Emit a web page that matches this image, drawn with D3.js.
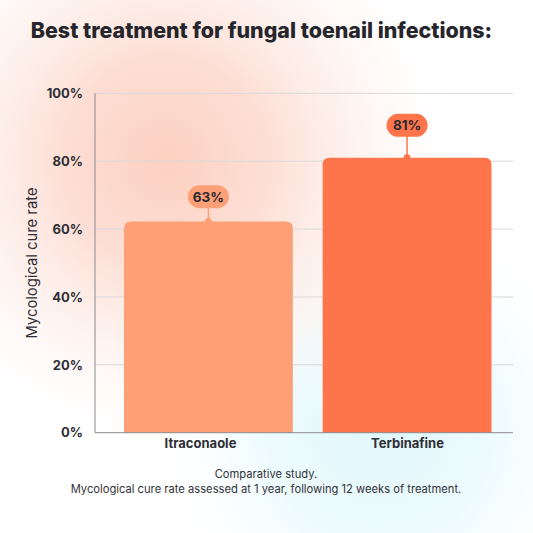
<!DOCTYPE html>
<html><head><meta charset="utf-8">
<script src="https://cdn.jsdelivr.net/npm/d3@7"></script>
<style>
html,body{margin:0;padding:0;background:#fff;}
svg{display:block;font-family:Inter,"Noto Sans",sans-serif;}
</style></head>
<body>
<svg id="chart" width="533" height="533"></svg>
<script>
const categories = ["Itraconaole", "Terbinafine"];
const values = [62.2, 81];
const valueLabels = ["63%", "81%"];
const barColors = ["#FDA077", "#FF754B"];
const yTicks = [0, 20, 40, 60, 80, 100];
const title = "Best treatment for fungal toenail infections:";
const yLabel = "Mycological cure rate";
const notes = ["Comparative study.", "Mycological cure rate assessed at 1 year, following 12 weeks of treatment."];

const svg = d3.select("#chart");
const W = 533, H = 533;
const defs = svg.append("defs");
const g1 = defs.append("radialGradient").attr("id","pink").attr("gradientUnits","userSpaceOnUse")
  .attr("cx",165).attr("cy",160).attr("r",300);
g1.append("stop").attr("offset","0%").attr("stop-color","#fcd0c1");
g1.append("stop").attr("offset","35%").attr("stop-color","#fddbd0").attr("stop-opacity",0.9);
g1.append("stop").attr("offset","70%").attr("stop-color","#fdeee9").attr("stop-opacity",0.5);
g1.append("stop").attr("offset","100%").attr("stop-color","#ffffff").attr("stop-opacity",0);
const g2 = defs.append("radialGradient").attr("id","cyan").attr("gradientUnits","userSpaceOnUse")
  .attr("cx",380).attr("cy",430).attr("r",230);
g2.append("stop").attr("offset","0%").attr("stop-color","#e0f8fc");
g2.append("stop").attr("offset","50%").attr("stop-color","#eafafd").attr("stop-opacity",0.8);
g2.append("stop").attr("offset","100%").attr("stop-color","#ffffff").attr("stop-opacity",0);
svg.append("rect").attr("width",W).attr("height",H).attr("fill","#fff");
svg.append("rect").attr("width",W).attr("height",H).attr("fill","url(#cyan)");
svg.append("rect").attr("width",W).attr("height",H).attr("fill","url(#pink)");

const pL = 95, pR = 513, pT = 93.3, pB = 432.7;
const y = d3.scaleLinear().domain([0,100]).range([pB, pT]);
const x = d3.scaleBand().domain(categories).range([108.5, 507]).paddingInner(0.15).paddingOuter(0.078);
const xl = d3.scaleBand().domain(categories).range([97, 511]);

// gridlines
svg.append("g").selectAll("line").data(yTicks.filter(t=>t>0)).join("line")
  .attr("x1",pL).attr("x2",pR).attr("y1",d=>y(d)).attr("y2",d=>y(d))
  .attr("stroke","#d9d9d9").attr("stroke-width",1);

// y tick labels
svg.append("g").selectAll("text").data(yTicks).join("text")
  .attr("x",83).attr("y",d=>y(d)).attr("dy","0.36em").attr("text-anchor","end")
  .attr("font-size",13).attr("font-weight",700).attr("fill","#2f2f35")
  .text(d=>d+"%");

// bars with rounded top corners
const r = 7;
function barPath(x0, w, yTop, yBot){
  return `M${x0},${yBot}V${yTop+r}Q${x0},${yTop} ${x0+r},${yTop}H${x0+w-r}Q${x0+w},${yTop} ${x0+w},${yTop+r}V${yBot}Z`;
}
svg.append("g").selectAll("path").data(categories).join("path")
  .attr("d",(d,i)=>barPath(x(d), x.bandwidth(), y(values[i]), pB))
  .attr("fill",(d,i)=>barColors[i]);

// axes lines
svg.append("line").attr("x1",pL).attr("x2",pL).attr("y1",pT).attr("y2",pB).attr("stroke","#8a8a8e").attr("stroke-width",1);
svg.append("line").attr("x1",pL).attr("x2",pR).attr("y1",pB).attr("y2",pB).attr("stroke","#8a8a8e").attr("stroke-width",1);

// value pills
const lab = svg.append("g").selectAll("g").data(categories).join("g");
lab.each(function(d,i){
  const gg = d3.select(this);
  const cx = x(d) + x.bandwidth()/2;
  const yTop = y(values[i]);
  const cy = yTop - (pB - yTop)*0.118;
  const pw = 41, ph = 23;
  gg.append("line").attr("x1",cx).attr("x2",cx).attr("y1",cy).attr("y2",yTop).attr("stroke",barColors[i]).attr("stroke-width",1.5);
  gg.append("circle").attr("cx",cx).attr("cy",yTop).attr("r",3.5).attr("fill",barColors[i]);
  gg.append("rect").attr("x",cx-pw/2).attr("y",cy-ph/2).attr("width",pw).attr("height",ph).attr("rx",ph/2).attr("fill",barColors[i]);
  gg.append("text").attr("x",cx).attr("y",cy).attr("dy","0.36em").attr("text-anchor","middle")
    .attr("font-size",13.5).attr("font-weight",700).attr("fill","#2a2a30").text(valueLabels[i]);
});

// category labels
svg.append("g").selectAll("text").data(categories).join("text")
  .attr("x",d=>xl(d)+xl.bandwidth()/2).attr("y",448).attr("text-anchor","middle")
  .attr("font-size",13).attr("font-weight",700).attr("fill","#2f2f35").text(d=>d);

// y label
svg.append("text").attr("transform",`translate(36.5,${(pT+pB)/2}) rotate(-90)`)
  .attr("text-anchor","middle").attr("font-size",14.8).attr("fill","#2f2f35").text(yLabel);

// title
svg.append("text").attr("x",261.5).attr("y",38).attr("text-anchor","middle")
  .attr("font-size",21.4).attr("font-weight",800).attr("fill","#25252b").text(title);

// notes
svg.append("g").selectAll("text").data(notes).join("text")
  .attr("x",266).attr("y",(d,i)=>478+i*14.5).attr("text-anchor","middle")
  .attr("font-size",11.2).attr("fill","#333338").text(d=>d);
</script>
</body></html>
